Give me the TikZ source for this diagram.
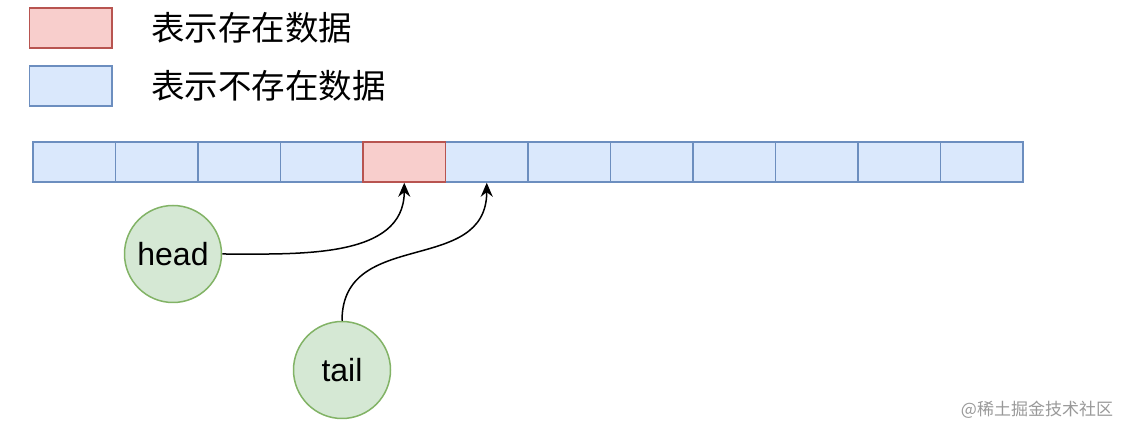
\documentclass[tikz,border=0pt]{standalone}
\usepackage{fontspec}
\setmainfont{Liberation Sans}
\newfontfamily\cjk{Noto Sans CJK SC}
\usetikzlibrary{arrows.meta}
\definecolor{fullfill}{HTML}{F8CECC}
\definecolor{fullline}{HTML}{B85450}
\definecolor{emptyfill}{HTML}{DAE8FC}
\definecolor{emptyline}{HTML}{6C8EBF}
\definecolor{ptrfill}{HTML}{D5E8D4}
\definecolor{ptrline}{HTML}{82B366}
\tikzset{
  slot/.style={shape=rectangle,inner sep=0pt,line width=1.5pt,
    minimum width=82.5pt,minimum height=40pt},
  fullslot/.style={slot,fill=fullfill,draw=fullline},
  emptyslot/.style={slot,fill=emptyfill,draw=emptyline},
  pointer/.style={shape=circle,fill=ptrfill,draw=ptrline,line width=1.5pt,
    inner sep=0pt,minimum size=97pt,font=\fontsize{32}{36}\selectfont},
  ptr/.style={line width=1.5pt,-{Stealth[length=14pt,width=12pt]}}
}
\begin{document}
\begin{tikzpicture}[x=1pt,y=1pt]
    \useasboundingbox (0,0) rectangle (1133,436);
    % legend
    \node (keyfull) [fullslot] at (70.5,408) {};
    \node (keyempty) [emptyslot] at (70.5,350) {};
    \node (txtfull) [anchor=west,inner sep=0pt,font=\cjk\fontsize{33.5}{36}\selectfont]
      at (151,408) {表示存在数据};
    \node (txtempty) [anchor=west,inner sep=0pt,font=\cjk\fontsize{33.5}{36}\selectfont]
      at (151,350) {表示不存在数据};
    % ring buffer
    \node (c0) [emptyslot] at (74.25,274) {};
    \node (c1) [emptyslot] at (156.75,274) {};
    \node (c2) [emptyslot] at (239.25,274) {};
    \node (c3) [emptyslot] at (321.75,274) {};
    \node (c5) [emptyslot] at (486.75,274) {};
    \node (c6) [emptyslot] at (569.25,274) {};
    \node (c7) [emptyslot] at (651.75,274) {};
    \node (c8) [emptyslot] at (734.25,274) {};
    \node (c9) [emptyslot] at (816.75,274) {};
    \node (c10) [emptyslot] at (899.25,274) {};
    \node (c11) [emptyslot] at (981.75,274) {};
    \node (c4) [fullslot] at (404.25,274) {};
    % pointers
    \node (head) [pointer] at (173,182) {head};
    \node (tail) [pointer] at (342,66) {tail};
    \draw [ptr] (head.east) to [out=0,in=-90] (c4.south);
    \draw [ptr] (tail.north) to [out=90,in=-90,looseness=1.2] (c5.south);
    % watermark
    \node (mark) [text=black!40,font=\cjk\fontsize{17}{20}\selectfont]
      at (1037,26) {@稀土掘金技术社区};
  \end{tikzpicture}
\end{document}
